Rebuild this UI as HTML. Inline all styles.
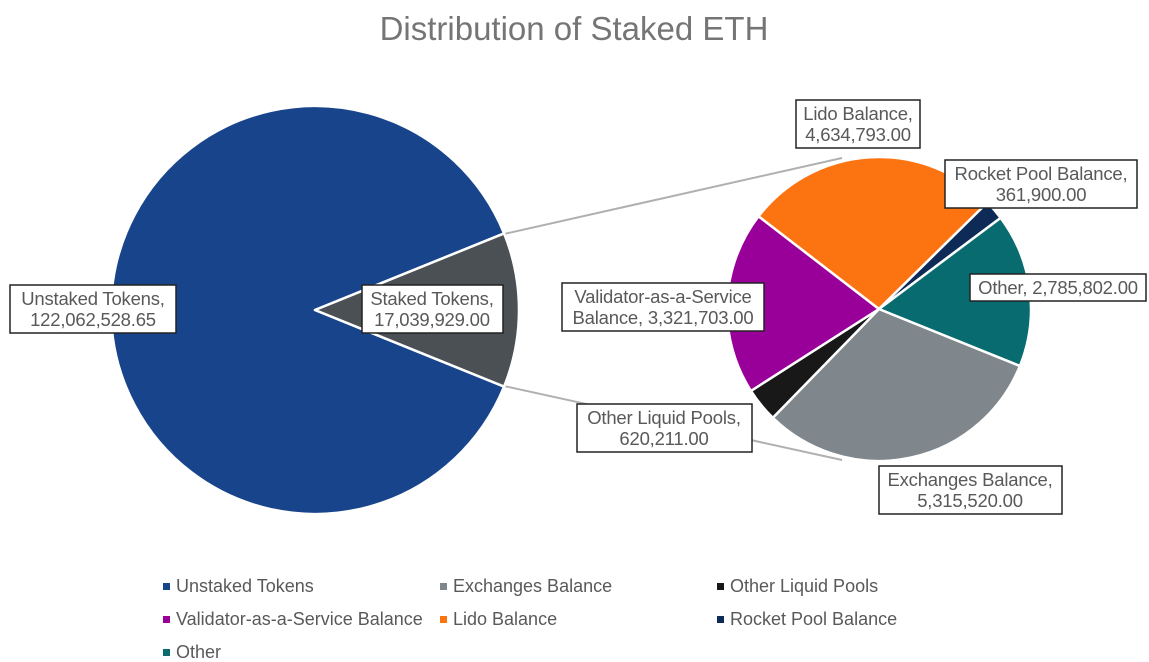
<!DOCTYPE html>
<html><head><meta charset="utf-8"><style>
html,body{margin:0;padding:0;background:#fff;}
svg{display:block;font-family:"Liberation Sans",Arial,sans-serif;}
</style></head><body>
<svg id="s" width="1149" height="662" viewBox="0 0 1149 662" xmlns="http://www.w3.org/2000/svg">
<rect width="1149" height="662" fill="#fff"/>
<text x="574" y="40" text-anchor="middle" font-size="33" fill="#757575">Distribution of Staked ETH</text>
<line x1="504" y1="234" x2="842" y2="158" stroke="#b0b0b0" stroke-width="2"/>
<line x1="504" y1="386" x2="842" y2="460" stroke="#b0b0b0" stroke-width="2"/>
<g id="pies"></g>
<g font-size="18.5" fill="#595959" text-anchor="middle" letter-spacing="-0.2">
<rect x="10" y="285" width="166" height="48" fill="#fff" stroke="#222" stroke-width="1.5"/>
<text x="93" y="305">Unstaked Tokens,</text><text x="93" y="326">122,062,528.65</text>
<rect x="362" y="285" width="141" height="48" fill="#fff" stroke="#222" stroke-width="1.5"/>
<text x="432" y="305">Staked Tokens,</text><text x="432" y="326">17,039,929.00</text>
<rect x="796" y="100" width="124" height="48" fill="#fff" stroke="#222" stroke-width="1.5"/>
<text x="858" y="120">Lido Balance,</text><text x="858" y="141">4,634,793.00</text>
<rect x="945" y="160" width="192" height="48" fill="#fff" stroke="#222" stroke-width="1.5"/>
<text x="1041" y="180">Rocket Pool Balance,</text><text x="1041" y="201">361,900.00</text>
<rect x="970" y="274" width="176" height="27" fill="#fff" stroke="#222" stroke-width="1.5"/>
<text x="1058" y="294">Other, 2,785,802.00</text>
<rect x="562" y="283" width="202" height="48" fill="#fff" stroke="#222" stroke-width="1.5"/>
<text x="663" y="303">Validator-as-a-Service</text><text x="663" y="324">Balance, 3,321,703.00</text>
<rect x="577" y="404" width="175" height="48" fill="#fff" stroke="#222" stroke-width="1.5"/>
<text x="664" y="424">Other Liquid Pools,</text><text x="664" y="445">620,211.00</text>
<rect x="879" y="466" width="183" height="48" fill="#fff" stroke="#222" stroke-width="1.5"/>
<text x="970" y="486">Exchanges Balance,</text><text x="970" y="507">5,315,520.00</text>
</g>
<g font-size="18" fill="#595959">
<rect x="163" y="583" width="7" height="7" fill="#17448b"/><text x="176" y="592">Unstaked Tokens</text>
<rect x="440" y="583" width="7" height="7" fill="#7f868c"/><text x="453" y="592">Exchanges Balance</text>
<rect x="717" y="583" width="7" height="7" fill="#181818"/><text x="730" y="592">Other Liquid Pools</text>
<rect x="163" y="616" width="7" height="7" fill="#990099"/><text x="176" y="625">Validator-as-a-Service Balance</text>
<rect x="440" y="616" width="7" height="7" fill="#fc7412"/><text x="453" y="625">Lido Balance</text>
<rect x="717" y="616" width="7" height="7" fill="#0e2a57"/><text x="730" y="625">Rocket Pool Balance</text>
<rect x="163" y="649" width="7" height="7" fill="#086b70"/><text x="176" y="658">Other</text>
</g>
</svg>
<script>
function arc(cx,cy,r,a0,a1,fill){
  var t=Math.PI/180;
  var x0=cx+r*Math.cos(a0*t),y0=cy+r*Math.sin(a0*t),x1=cx+r*Math.cos(a1*t),y1=cy+r*Math.sin(a1*t);
  var large=(a1-a0)>180?1:0;
  return '<path d="M'+cx+','+cy+' L'+x0+','+y0+' A'+r+','+r+' 0 '+large+' 1 '+x1+','+y1+' Z" fill="'+fill+'" stroke="#fff" stroke-width="2.5" stroke-linejoin="round"/>';
}
var h='';
h+=arc(315,310,204,22.05,337.95,'#17448b');
h+=arc(315,310,204,-22.05,22.05,'#4b5055');
var vals=[[5315520,'#7f868c'],[620211,'#181818'],[3321703,'#990099'],[4634793,'#fc7412'],[361900,'#0e2a57'],[2785802,'#086b70']];
var tot=17039929,a=22;
vals.forEach(function(v){var d=v[0]/tot*360;h+=arc(879,309,152,a,a+d,v[1]);a+=d;});
document.getElementById('pies').innerHTML=h;
</script>
</body></html>
